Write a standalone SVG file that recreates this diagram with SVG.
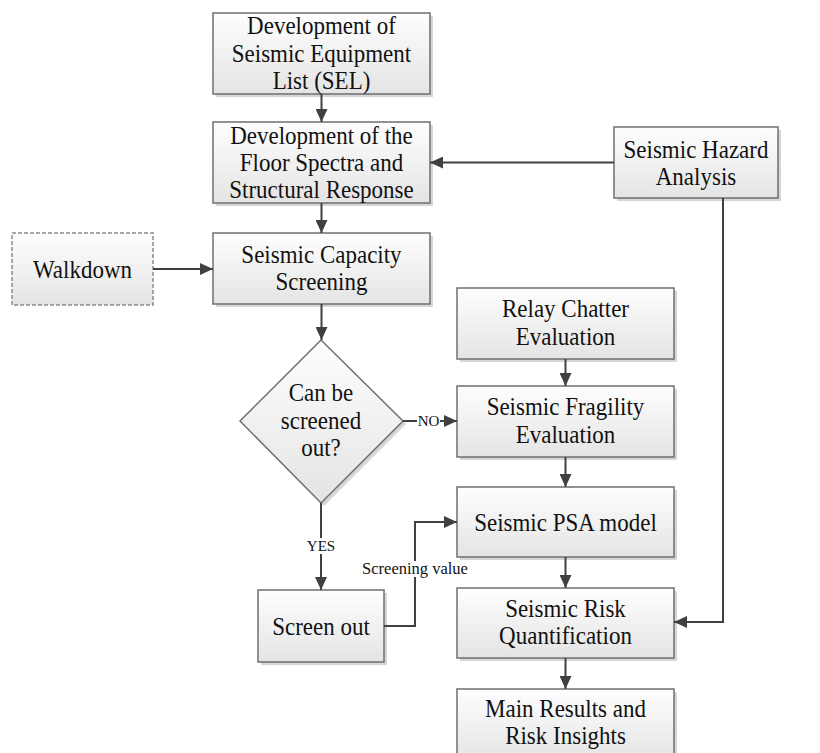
<svg xmlns="http://www.w3.org/2000/svg" width="820" height="753" viewBox="0 0 820 753">
<defs>
<linearGradient id="g" x1="0" y1="0" x2="0" y2="1">
<stop offset="0" stop-color="#fefefe"/>
<stop offset="1" stop-color="#e4e4e4"/>
</linearGradient>
<marker id="ah" markerUnits="userSpaceOnUse" markerWidth="14" markerHeight="12" refX="13" refY="6" orient="auto">
<path d="M0,0 L13,6 L0,12 z" fill="#404040"/>
</marker>
<style>
.box{fill:url(#g);stroke:#6f6f6f;stroke-width:1.5}
.sh{fill:#d6d6d6}
.dash{fill:url(#g);stroke:#8a8a8a;stroke-width:1.5;stroke-dasharray:4 2}
.t{font-family:"Liberation Serif","Times New Roman",serif;font-size:23px;fill:#111;text-anchor:middle;transform-box:fill-box;transform-origin:center;transform:scaleY(1.12)}
.l{font-family:"Liberation Serif","Times New Roman",serif;font-size:15px;fill:#111;text-anchor:middle}
.c{fill:none;stroke:#404040;stroke-width:2}
</style>
</defs>
<rect width="820" height="753" fill="#fff"/>

<g id="sel">
<rect class="sh" x="216" y="16" width="217" height="81"/>
<rect class="box" x="213" y="13" width="217" height="81"/>
<text class="t" x="321.5" y="33">Development of</text>
<text class="t" x="321.5" y="61">Seismic Equipment</text>
<text class="t" x="321.5" y="88">List (SEL)</text>
</g>

<g id="floor">
<rect class="sh" x="216" y="125" width="217" height="81"/>
<rect class="box" x="213" y="122" width="217" height="81"/>
<text class="t" x="321.5" y="143">Development of the</text>
<text class="t" x="321.5" y="170">Floor Spectra and</text>
<text class="t" x="321.5" y="197">Structural Response</text>
</g>

<g id="hazard">
<rect class="sh" x="617" y="130" width="164" height="71"/>
<rect class="box" x="614" y="127" width="164" height="71"/>
<text class="t" x="696" y="157">Seismic Hazard</text>
<text class="t" x="696" y="184">Analysis</text>
</g>

<g id="walkdown">
<rect class="dash" x="12" y="233" width="141" height="72"/>
<text class="t" x="82.5" y="277">Walkdown</text>
</g>

<g id="capacity">
<rect class="sh" x="216" y="236" width="217" height="71"/>
<rect class="box" x="213" y="233" width="217" height="71"/>
<text class="t" x="321.5" y="262">Seismic Capacity</text>
<text class="t" x="321.5" y="289">Screening</text>
</g>

<g id="decision">
<polygon class="sh" points="324,343 406,424 324,506 243,424"/>
<polygon class="box" points="321,340 403,421 321,503 240,421"/>
<text class="t" x="321" y="400">Can be</text>
<text class="t" x="321" y="428">screened</text>
<text class="t" x="321" y="455">out?</text>
</g>

<g id="relay">
<rect class="sh" x="460" y="291" width="217" height="71"/>
<rect class="box" x="457" y="288" width="217" height="71"/>
<text class="t" x="565.5" y="316">Relay Chatter</text>
<text class="t" x="565.5" y="344">Evaluation</text>
</g>

<g id="fragility">
<rect class="sh" x="460" y="389" width="217" height="71"/>
<rect class="box" x="457" y="386" width="217" height="71"/>
<text class="t" x="565.5" y="414">Seismic Fragility</text>
<text class="t" x="565.5" y="442">Evaluation</text>
</g>

<g id="psa">
<rect class="sh" x="460" y="490" width="217" height="70"/>
<rect class="box" x="457" y="487" width="217" height="70"/>
<text class="t" x="565.5" y="530">Seismic PSA model</text>
</g>

<g id="screenout">
<rect class="sh" x="261" y="593" width="126" height="72"/>
<rect class="box" x="258" y="590" width="126" height="72"/>
<text class="t" x="321" y="634">Screen out</text>
</g>

<g id="risk">
<rect class="sh" x="460" y="591" width="217" height="70"/>
<rect class="box" x="457" y="588" width="217" height="70"/>
<text class="t" x="565.5" y="616">Seismic Risk</text>
<text class="t" x="565.5" y="643">Quantification</text>
</g>

<g id="results">
<rect class="sh" x="460" y="692" width="217" height="72"/>
<rect class="box" x="457" y="689" width="217" height="72"/>
<text class="t" x="565.5" y="716">Main Results and</text>
<text class="t" x="565.5" y="743">Risk Insights</text>
</g>

<g id="connectors">
<line class="c" x1="321.5" y1="94" x2="321.5" y2="122" marker-end="url(#ah)"/>
<line class="c" x1="614" y1="162.5" x2="430" y2="162.5" marker-end="url(#ah)"/>
<line class="c" x1="321.5" y1="203" x2="321.5" y2="233" marker-end="url(#ah)"/>
<line class="c" x1="153" y1="269" x2="213" y2="269" marker-end="url(#ah)"/>
<line class="c" x1="321.5" y1="304" x2="321.5" y2="340" marker-end="url(#ah)"/>
<line class="c" x1="403" y1="421" x2="457" y2="421" marker-end="url(#ah)"/>
<rect x="417" y="413" width="23" height="15" fill="#fff"/>
<text class="l" x="428.5" y="426">NO</text>
<line class="c" x1="321" y1="503" x2="321" y2="590" marker-end="url(#ah)"/>
<rect x="305" y="538" width="32" height="16" fill="#fff"/>
<text class="l" x="321" y="551">YES</text>
<path class="c" d="M384,626 H415 V522 H457" marker-end="url(#ah)"/>
<rect x="360" y="561" width="110" height="16" fill="#fff"/>
<text class="l" x="415" y="574" style="font-size:16.5px">Screening value</text>
<line class="c" x1="565.5" y1="359" x2="565.5" y2="386" marker-end="url(#ah)"/>
<line class="c" x1="565.5" y1="457" x2="565.5" y2="487" marker-end="url(#ah)"/>
<line class="c" x1="565.5" y1="557" x2="565.5" y2="588" marker-end="url(#ah)"/>
<line class="c" x1="565.5" y1="658" x2="565.5" y2="689" marker-end="url(#ah)"/>
<path class="c" d="M723,198 V622 H674" marker-end="url(#ah)"/>
</g>
</svg>
